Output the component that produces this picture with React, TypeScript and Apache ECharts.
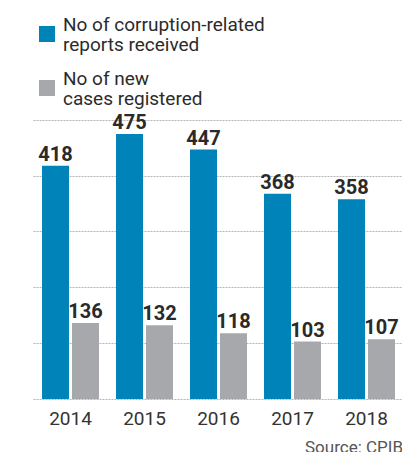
import React, { useEffect, useRef } from "react";
import * as echarts from "echarts";

const years = ["2014", "2015", "2016", "2017", "2018"];
const reports = [418, 475, 447, 368, 358];
const cases = [136, 132, 118, 103, 107];
const seriesNames = ["No of corruption-related\nreports received", "No of new\ncases registered"];
const sourceText = "Source: CPIB";

const FONT = "Roboto, 'Liberation Sans', sans-serif";

export default function App() {
  const ref = useRef<HTMLDivElement>(null);
  useEffect(() => {
    if (!ref.current) return;
    const chart = echarts.init(ref.current, undefined, { renderer: "svg" });
    const labelStyle = {
      show: true,
      position: "top" as const,
      distance: 2,
      fontFamily: FONT,
      fontSize: 20,
      fontWeight: "bold" as const,
      color: "#2a2a2a",
    };
    chart.setOption({
      animation: false,
      backgroundColor: "#ffffff",
      textStyle: { fontFamily: FONT },
      legend: {
        orient: "vertical",
        left: 34,
        top: 9,
        itemWidth: 16,
        itemHeight: 16,
        itemGap: 14,
        icon: "rect",
        selectedMode: false,
        textStyle: {
          fontFamily: FONT,
          fontSize: 19,
          lineHeight: 20,
          color: "#2b2b2b",
          padding: [0, 0, 0, 3],
        },
        data: seriesNames,
      },
      grid: { left: 33.5, right: 6.5, top: 120, bottom: 61, containLabel: false },
      xAxis: {
        type: "category",
        data: years,
        axisLine: { show: false },
        axisTick: { show: false },
        axisLabel: {
          fontFamily: FONT,
          fontSize: 19,
          color: "#333333",
          margin: 10,
        },
      },
      yAxis: {
        type: "value",
        min: 0,
        max: 500,
        interval: 100,
        axisLabel: { show: false },
        axisLine: { show: false },
        axisTick: { show: false },
        splitLine: { lineStyle: { color: "#b5b5b5", type: [2, 1], width: 1 } },
      },
      series: [
        {
          name: seriesNames[0],
          type: "bar",
          data: reports,
          barWidth: 27,
          barGap: "11%",
          itemStyle: { color: "#0083b9" },
          label: labelStyle,
        },
        {
          name: seriesNames[1],
          type: "bar",
          data: cases,
          barWidth: 27,
          itemStyle: { color: "#a7a8ab" },
          label: labelStyle,
        },
      ],
      graphic: [
        {
          type: "text",
          x: 403,
          y: 447,
          style: {
            text: sourceText,
            fontFamily: FONT,
            fontSize: 17,
            fill: "#555555",
            align: "right",
            verticalAlign: "middle",
          },
        },
      ],
    });
    return () => chart.dispose();
  }, []);
  return <div ref={ref} style={{ width: 410, height: 460, margin: -8 }} />;
}
